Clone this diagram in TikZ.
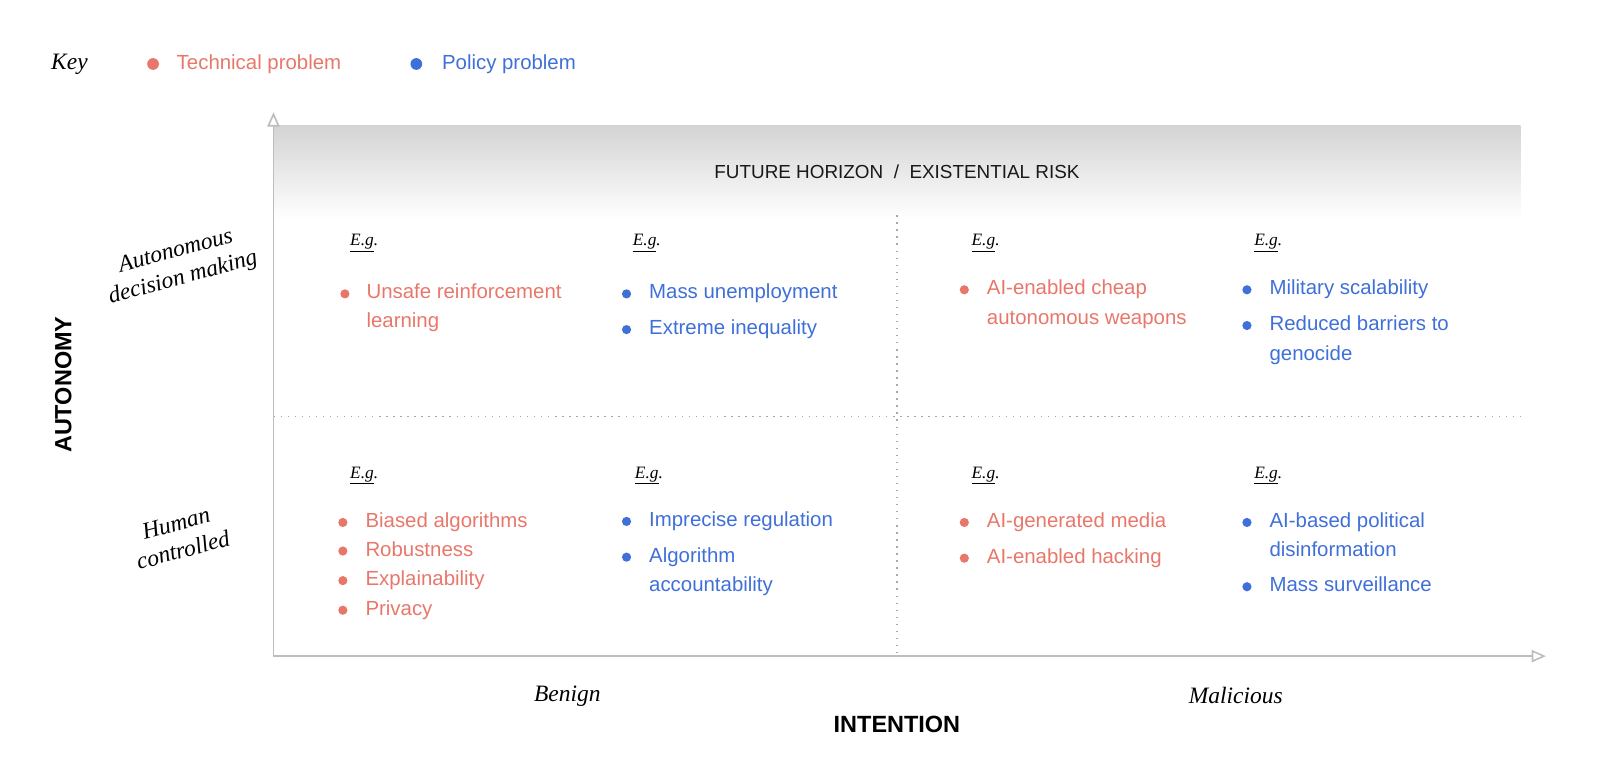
\documentclass[tikz,border=0pt]{standalone}
\usepackage{fontspec}
\newfontfamily\rob{Liberation Sans}
\newfontfamily\serit{Liberation Serif}
\usetikzlibrary{arrows.meta}
\definecolor{tred}{HTML}{E8776A}
\definecolor{pblue}{HTML}{3F6FD8}
\definecolor{axisgray}{HTML}{BDBDBD}
\definecolor{dotgray}{HTML}{A8A8A8}
\begin{document}
\begin{tikzpicture}[x=1pt,y=-1pt,
 item/.style={anchor=base west, inner sep=0pt, font=\rob\fontsize{20}{24}\selectfont},
 titem/.style={item, text=tred},
 pitem/.style={item, text=pblue},
 tdot/.style={circle, fill=tred, inner sep=0pt, minimum size=9pt},
 pdot/.style={circle, fill=pblue, inner sep=0pt, minimum size=9pt},
 eg/.style={anchor=base west, inner sep=0pt, font=\serit\itshape\fontsize{17}{19}\selectfont},
 axisline/.style={draw=axisgray, line width=1.6pt, -{Triangle[open, length=14pt, width=12pt]}},
 gridline/.style={draw=dotgray, line width=1.4pt, dash pattern=on 1.4pt off 5.5pt},
 seritlab/.style={font=\serit\itshape\fontsize{23}{27}\selectfont, inner sep=0pt, align=center},
 axlab/.style={font=\rob\bfseries\fontsize{23}{26}\selectfont, inner sep=0pt}
]
\useasboundingbox (0,0) rectangle (1568,752.6);

% key
\node[inner sep=0pt, anchor=base west, font=\serit\itshape\fontsize{23}{25}\selectfont] (key) at (50,68) {Key};
\node[tdot, minimum size=11.5pt] (keyt) at (150,62.7) {};
\node[titem] (keytl) at (173,67.9) {Technical problem};
\node[pdot, minimum size=11.5pt] (keyp) at (408,62.7) {};
\node[pitem] (keypl) at (433,67.9) {Policy problem};

% horizon band
\shade[top color=black!17, bottom color=white] (268,123) rectangle (1490,215);
\node[inner sep=0pt, font=\rob\fontsize{18.5}{20}\selectfont, text=black!90] (horizon) at (879,168) {FUTURE HORIZON~~/~~EXISTENTIAL RISK};

% axes
\coordinate (O) at (268,643);
\coordinate (ytop) at (268,110);
\coordinate (xend) at (1515,643);
\coordinate (vtop) at (879,211);
\coordinate (vbot) at (879,643);
\coordinate (hl) at (268,408);
\coordinate (hr) at (1490,408);
\draw[gridline] (vtop) -- (vbot);
\draw[gridline] (hl) -- (hr);
\draw[axisline] (O) -- (ytop);
\draw[axisline] (O) -- (xend);

% axis labels
\node[axlab, rotate=90] (autonomy) at (62,377) {AUTONOMY};
\node[axlab] (intention) at (879,710) {INTENTION};
\node[seritlab] (benign) at (556,682) {Benign};
\node[seritlab] (malicious) at (1211,682) {Malicious};
\node[seritlab, rotate=15] (adm) at (176,260) {Autonomous\\decision making};
\node[seritlab, rotate=15] (hc) at (176,526) {Human\\controlled};

% top-left quadrant
\node[eg] (eg1) at (343,241) {\underline{E.g}.};
\node[tdot] (d1) at (338,288) {};
\node[titem] (t1a) at (359,293) {Unsafe reinforcement};
\node[titem] (t1b) at (359,321) {learning};
\node[eg] (eg2) at (620,241) {\underline{E.g}.};
\node[pdot] (d2) at (614,288) {};
\node[pitem] (t2) at (636,293) {Mass unemployment};
\node[pdot] (d3) at (614,323) {};
\node[pitem] (t3) at (636,328) {Extreme inequality};

% top-right quadrant
\node[eg] (eg3) at (952,241) {\underline{E.g}.};
\node[tdot] (d4) at (945,284) {};
\node[titem] (t4a) at (967,289) {AI-enabled cheap};
\node[titem] (t4b) at (967,318) {autonomous weapons};
\node[eg] (eg4) at (1229,241) {\underline{E.g}.};
\node[pdot] (d5) at (1222,284) {};
\node[pitem] (t5) at (1244,289) {Military scalability};
\node[pdot] (d6) at (1222,319) {};
\node[pitem] (t6a) at (1244,324) {Reduced barriers to};
\node[pitem] (t6b) at (1244,353) {genocide};

% bottom-left quadrant
\node[eg] (eg5) at (343,469) {\underline{E.g}.};
\node[tdot] (d7) at (336,512) {};
\node[titem] (t7) at (358,517) {Biased algorithms};
\node[tdot] (d8) at (336,540) {};
\node[titem] (t8) at (358,545) {Robustness};
\node[tdot] (d9) at (336,569) {};
\node[titem] (t9) at (358,574) {Explainability};
\node[tdot] (d10) at (336,598) {};
\node[titem] (t10) at (358,603) {Privacy};
\node[eg] (eg6) at (622,469) {\underline{E.g}.};
\node[pdot] (d11) at (614,511) {};
\node[pitem] (t11) at (636,516) {Imprecise regulation};
\node[pdot] (d12) at (614,546) {};
\node[pitem] (t12a) at (636,551) {Algorithm};
\node[pitem] (t12b) at (636,580) {accountability};

% bottom-right quadrant
\node[eg] (eg7) at (952,469) {\underline{E.g}.};
\node[tdot] (d13) at (945,512) {};
\node[titem] (t13) at (967,517) {AI-generated media};
\node[tdot] (d14) at (945,547) {};
\node[titem] (t14) at (967,552) {AI-enabled hacking};
\node[eg] (eg8) at (1229,469) {\underline{E.g}.};
\node[pdot] (d15) at (1222,512) {};
\node[pitem] (t15a) at (1244,517) {AI-based political};
\node[pitem] (t15b) at (1244,545) {disinformation};
\node[pdot] (d16) at (1222,575) {};
\node[pitem] (t16) at (1244,580) {Mass surveillance};
\end{tikzpicture}
\end{document}
